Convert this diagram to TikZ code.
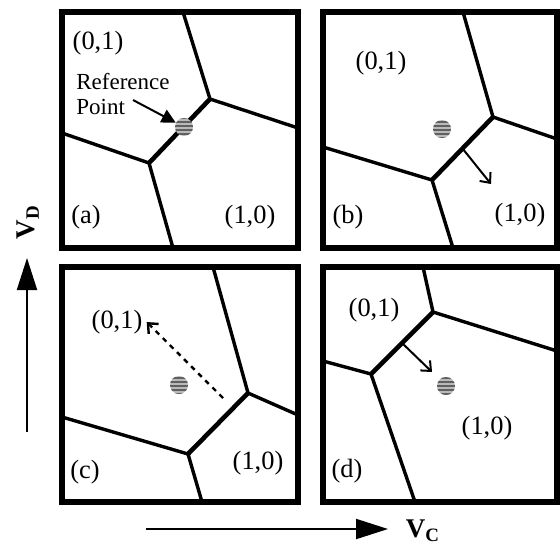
\documentclass[tikz,border=0pt]{standalone}
\usepackage{fontspec}
\setmainfont{Liberation Serif}
\usetikzlibrary{arrows.meta,patterns.meta,calc}

\begin{document}
\begin{tikzpicture}[x=0.5pt,y=-0.5pt,
frame/.style={draw=black,line width=3pt},
wall/.style={line width=1.7pt,line join=round},
front/.style={line width=2.3pt},
dot/.style={circle,minimum size=9pt,inner sep=0pt,fill=gray!55,
postaction={pattern={Lines[angle=0,distance=2pt,line width=0.9pt]},pattern color=gray!75!black}},
region/.style={font=\fontsize{13.2}{15}\selectfont,inner sep=2pt},
refnote/.style={font=\fontsize{11.5}{12.5}\selectfont,align=left,inner sep=0pt},
pointer/.style={-{Triangle[length=7pt,width=7pt]},line width=1pt},
drift/.style={-{Straight Barb[length=4pt,width=7pt]},line width=1pt},
trail/.style={-{Straight Barb[length=4pt,width=7pt]},line width=1.2pt,dash pattern=on 2.5pt off 2.5pt},
axis/.style={-{Triangle[length=16pt,width=10pt]},line width=1pt},
axislabel/.style={font=\fontsize{13.5}{15}\selectfont\bfseries,inner sep=0pt}]
\useasboundingbox (0,0) rectangle (560,546);
% (a) reference point on the boundary
\coordinate (a1) at (210,99);
\coordinate (a2) at (149,163);
\draw[wall] (183,12) -- (a1) -- (298,128);
\draw[wall] (62,133) -- (a2) -- (173,248);
\draw[front] (a1) -- (a2);
\draw[frame] (62,12) rectangle (298,248);
\node[dot] (dota) at (184,127) {};
\node[refnote,anchor=north west] (refnote) at (76,73) {Reference\\Point};
\coordinate (refstart) at (133,100);
\draw[pointer] (refstart) -- (dota);
\node[region] (a01) at (98,43) {(0,1)};
\node[region] (a10) at (250,217) {(1,0)};
\node[region] (tagA) at (86,217) {(a)};
% (b) boundary moves into (1,0)
\coordinate (b1) at (493,117);
\coordinate (b2) at (432,180);
\draw[wall] (463,12) -- (b1) -- (557,139);
\draw[wall] (323,147) -- (b2) -- (453,248);
\draw[front] (b1) -- (b2);
\draw[frame] (323,12) rectangle (557,248);
\node[dot] (dotb) at (442,129) {};
\coordinate (pushb) at (491,184);
\draw[drift] ($(b1)!0.5!(b2)$) -- (pushb);
\node[region] (b01) at (381,63) {(0,1)};
\node[region] (b10) at (520,215) {(1,0)};
\node[region] (tagB) at (348,217) {(b)};
% (c) point deep inside (0,1)
\coordinate (c1) at (248,393);
\coordinate (c2) at (188,454);
\draw[wall] (213,267) -- (c1) -- (298,415);
\draw[wall] (62,417) -- (c2) -- (202,502);
\draw[front] (c1) -- (c2);
\draw[frame] (62,267) rectangle (298,502);
\node[dot] (dotc) at (179,385) {};
\node[region] (c01) at (117,322) {(0,1)};
\node[region] (c10) at (258,463) {(1,0)};
\node[region] (tagC) at (85,472) {(c)};
\coordinate (trailc) at (223,398);
\draw[trail] (trailc) -- (c01.east);
% (d) boundary moves past the point
\coordinate (d1) at (433,312);
\coordinate (d2) at (371,374);
\draw[wall] (423,267) -- (d1) -- (557,351);
\draw[wall] (323,361) -- (d2) -- (415,502);
\draw[front] (d1) -- (d2);
\draw[frame] (323,267) rectangle (557,502);
\node[dot] (dotd) at (446,386) {};
\coordinate (pushd) at (432,372);
\draw[drift] ($(d1)!0.5!(d2)$) -- (pushd);
\node[region] (d01) at (374,310) {(0,1)};
\node[region] (d10) at (487,428) {(1,0)};
\node[region] (tagD) at (347,471) {(d)};
% axes
\coordinate (vdfoot) at (27,432);
\coordinate (vdtip) at (27,258);
\draw[axis] (vdfoot) -- (vdtip);
\node[axislabel,rotate=90] (vdlabel) at (28,222) {V\textsubscript{D}};
\coordinate (vcfoot) at (146,529);
\coordinate (vctip) at (388,529);
\draw[axis] (vcfoot) -- (vctip);
\node[axislabel] (vclabel) at (423,531) {V\textsubscript{C}};
\end{tikzpicture}
\end{document}
